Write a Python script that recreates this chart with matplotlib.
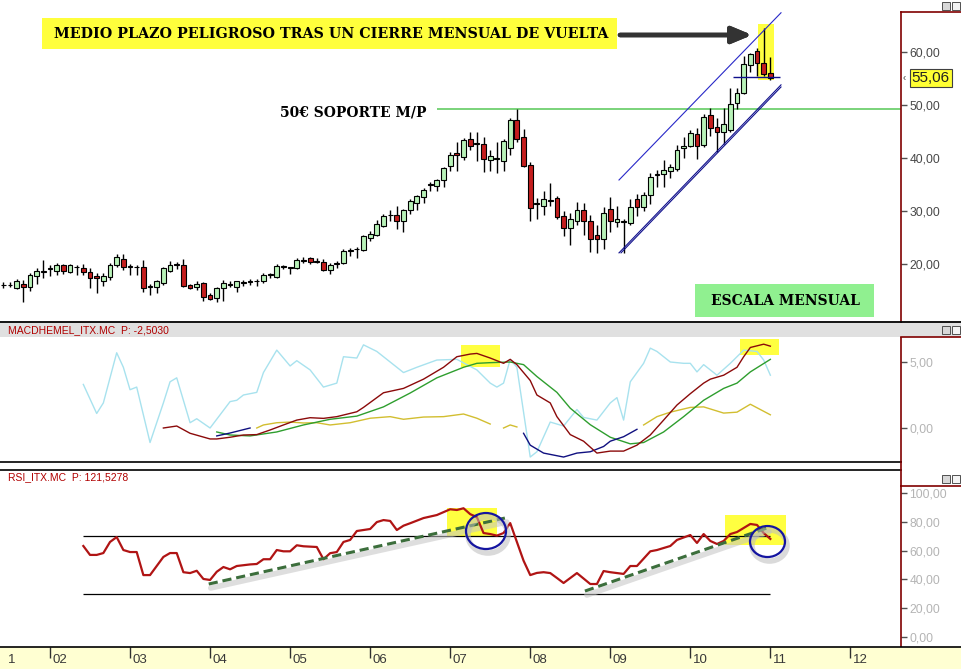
import numpy as np
import matplotlib
matplotlib.use("Agg")
import matplotlib.pyplot as plt
from matplotlib.patches import Rectangle, Ellipse
from matplotlib.lines import Line2D
from matplotlib.transforms import offset_copy, blended_transform_factory

W, H = 962, 669
X0, DX = 3.3, 6.67          # pixel of the first candle, pixels per month

# ---- ITX.MC monthly candles, index 0 = jun 2001 ----
opens = [16.0, 16.1, 15.4, 16.3, 15.6, 17.7, 18.5, 19.1, 18.7, 19.8,
         18.5, 19.5, 19.3, 18.4, 17.7, 16.7, 17.6, 19.8, 20.9, 19.5,
         19.5, 19.5, 15.7, 15.6, 16.5, 18.7, 19.8, 19.8, 16.0, 15.6,
         16.4, 14.2, 13.5, 15.4, 16.3, 15.6, 16.4, 16.6, 16.7, 16.7,
         17.9, 17.6, 19.5, 19.3, 19.2, 20.6, 21.1, 20.5, 20.4, 18.9,
         20.0, 20.1, 22.5, 22.9, 22.6, 25.0, 25.5, 27.2, 29.2, 29.2,
         28.2, 30.1, 31.6, 32.7, 34.9, 34.7, 35.8, 38.4, 40.9, 40.2,
         43.5, 42.7, 42.6, 39.6, 39.8, 39.4, 41.8, 47.2, 43.9, 38.6,
         31.3, 31.0, 31.9, 32.5, 29.1, 26.7, 28.2, 30.2, 28.1, 25.4,
         24.8, 30.4, 27.9, 27.9, 27.8, 32.3, 30.7, 33.0, 36.8, 37.0,
         37.5, 37.9, 41.8, 42.3, 44.6, 42.5, 48.1, 45.8, 45.0, 45.3,
         50.3, 52.3, 57.5, 60.1, 58.0, 56.1]
highs = [16.6, 16.6, 17.2, 16.9, 18.3, 19.3, 20.8, 19.8, 20.1, 20.0,
         20.0, 19.8, 20.0, 19.2, 18.3, 18.3, 20.1, 21.9, 21.9, 20.0,
         19.8, 20.8, 16.3, 17.0, 19.5, 20.5, 20.3, 20.9, 16.3, 16.8,
         16.6, 14.6, 15.7, 16.9, 16.7, 16.7, 16.9, 17.2, 17.2, 18.3,
         18.3, 20.0, 19.9, 19.5, 21.1, 21.3, 21.3, 21.1, 20.9, 20.1,
         20.5, 22.8, 23.0, 23.2, 25.5, 26.3, 28.3, 29.4, 30.1, 31.0,
         30.4, 32.2, 33.1, 34.3, 35.4, 36.1, 38.3, 41.1, 43.0, 43.7,
         45.0, 45.0, 44.0, 41.5, 43.1, 43.6, 47.5, 49.3, 45.5, 39.2,
         32.5, 33.8, 35.2, 32.8, 30.0, 29.6, 31.7, 31.6, 29.2, 27.4,
         30.8, 32.6, 31.0, 28.4, 32.2, 33.2, 33.5, 37.1, 37.8, 39.6,
         38.8, 42.5, 44.0, 45.3, 45.7, 48.3, 49.4, 47.6, 49.4, 53.3,
         53.3, 59.2, 59.9, 60.7, 64.5, 59.1]
lows = [15.5, 15.6, 15.2, 12.9, 15.0, 16.3, 17.4, 17.7, 17.9, 18.2,
        18.3, 17.9, 18.0, 15.4, 14.6, 15.9, 17.0, 19.4, 18.9, 17.9,
        17.9, 14.8, 14.2, 14.6, 16.0, 18.5, 19.1, 15.6, 15.3, 15.1,
        13.0, 13.2, 12.9, 13.0, 15.6, 14.8, 15.9, 16.0, 15.8, 16.5,
        17.3, 17.4, 19.0, 18.2, 19.0, 20.2, 20.0, 20.1, 18.7, 18.1,
        19.2, 20.0, 21.5, 21.2, 22.4, 24.3, 25.2, 26.9, 28.2, 26.6,
        26.1, 29.4, 30.2, 31.5, 33.8, 33.7, 34.5, 37.6, 37.5, 39.6,
        41.5, 39.4, 37.4, 37.5, 37.1, 37.5, 40.5, 43.0, 38.3, 28.1,
        28.5, 29.3, 31.0, 28.5, 25.2, 23.6, 27.3, 25.4, 22.3, 22.0,
        22.8, 26.0, 26.9, 22.1, 27.3, 29.1, 30.0, 31.3, 34.6, 34.6,
        36.3, 37.5, 40.0, 42.0, 39.8, 42.0, 44.2, 41.2, 42.6, 45.0,
        49.2, 52.0, 56.2, 55.5, 55.5, 54.7]
closes = [16.1, 16.0, 16.7, 15.7, 17.9, 18.7, 18.6, 19.2, 19.8, 18.6,
          19.8, 19.4, 18.5, 17.3, 17.4, 17.7, 19.8, 21.4, 19.5, 19.6,
          19.4, 15.4, 15.8, 16.7, 19.2, 19.8, 19.9, 15.8, 15.5, 16.3,
          13.8, 13.4, 15.4, 16.5, 16.0, 16.7, 16.5, 16.7, 16.8, 17.9,
          18.0, 19.7, 19.6, 19.4, 20.8, 20.7, 20.3, 20.4, 18.9, 19.9,
          20.1, 22.5, 22.6, 22.8, 25.2, 25.6, 27.5, 29.1, 29.3, 28.1,
          30.2, 31.8, 32.8, 34.0, 35.0, 35.8, 38.1, 40.6, 40.5, 43.4,
          42.2, 42.8, 39.8, 40.3, 39.9, 43.3, 47.2, 43.6, 38.5, 30.5,
          31.4, 32.2, 32.0, 28.8, 26.7, 28.4, 30.2, 28.1, 24.8, 24.8,
          29.6, 28.2, 28.4, 28.2, 30.7, 30.8, 33.0, 36.5, 36.9, 37.7,
          38.3, 41.5, 42.3, 44.7, 42.2, 47.8, 45.7, 45.0, 46.4, 50.2,
          52.2, 57.7, 59.6, 58.0, 55.8, 55.06]

# january of each year (candle index) and its label
year_idx = [7, 19, 31, 43, 55, 67, 79, 91, 103, 115, 127]
year_lab = ['02', '03', '04', '05', '06', '07', '08', '09', '10', '11', '12']

# ---- MACD panel (month index, value) ----
cyan_k = [12, 14, 15, 17, 18, 19, 20, 22, 24, 25, 26, 28, 29, 31, 34, 35, 36, 38,
          39, 41, 43, 44, 46, 48, 50, 51, 53, 54, 56, 60, 62, 65, 68, 71, 73, 74,
          75, 76, 77, 79, 80, 82, 84, 86, 87, 89, 91, 92, 93, 94, 96, 97, 98, 100,
          102, 103, 104, 105, 107, 109, 111, 113, 114, 115]
cyan_v = [3.3, 1.1, 1.9, 5.7, 4.6, 2.9, 3.1, -1.1, 1.9, 3.5, 3.8, 0.4, 0.7, 0.0,
          2.0, 2.1, 2.5, 2.7, 4.2, 5.9, 4.7, 5.1, 4.4, 3.1, 3.4, 5.4, 5.3, 6.3,
          5.8, 4.2, 4.6, 5.15, 5.2, 4.4, 3.4, 3.1, 3.4, 5.2, 4.6, -2.2, -1.8, 0.45,
          0.15, 1.4, 0.8, 0.6, 1.9, 2.3, 0.6, 3.5, 4.9, 6.05, 5.8, 5.0, 4.9, 4.9,
          4.25, 4.8, 4.0, 4.9, 5.9, 5.8, 5.15, 4.0]
macd_k = [24, 26, 28, 31, 32, 34, 36, 38, 40, 42, 44, 46, 48, 50, 53, 54, 57, 60,
          63, 66, 68, 70, 71, 73, 75, 76, 77, 79, 80, 82, 83, 85, 87, 89, 91, 93,
          95, 97, 99, 101, 103, 105, 106, 108, 110, 111, 112, 114, 115]
macd_v = [0.0, 0.15, -0.4, -0.83, -0.83, -0.7, -0.53, -0.5, -0.15, 0.23, 0.6,
          0.78, 0.73, 0.86, 1.23, 1.56, 2.67, 3.0, 3.7, 4.6, 5.4, 5.6, 5.65, 5.3,
          4.9, 5.2, 4.8, 3.6, 2.5, 1.9, 0.86, -0.5, -1.0, -1.9, -1.75, -1.75, -1.3,
          -0.53, 0.6, 1.74, 2.6, 3.4, 3.7, 4.0, 4.6, 5.4, 6.1, 6.35, 6.2]
sig_k = [32, 34, 37, 41, 45, 49, 53, 57, 61, 65, 69, 71, 73, 76, 78, 80, 83, 85,
         88, 91, 94, 96, 99, 102, 105, 108, 110, 112, 115]
sig_v = [-0.3, -0.53, -0.6, -0.3, 0.23, 0.66, 0.9, 1.6, 2.65, 3.8, 4.6, 4.9, 4.95,
         5.0, 4.8, 3.9, 2.7, 1.5, 0.25, -0.7, -1.2, -1.1, -0.3, 0.86, 2.1, 3.0,
         3.4, 4.25, 5.2]
yel_k = [38, 39, 41, 43, 45, 47, 49, 52, 55, 58, 60, 63, 66, 69, 71, 73, 74,
         75, 76, 77, 78, 96, 98, 100, 103, 105, 108, 110, 112, 115]
yel_v = [0.0, 0.23, 0.4, 0.45, 0.38, 0.4, 0.23, 0.4, 0.74, 0.86, 0.66, 0.83, 0.86,
         1.06, 0.74, 0.3, np.nan, 0.0, 0.23, 0.08, np.nan, 0.23, 0.86, 1.2, 1.56,
         1.6, 1.13, 1.2, 1.8, 1.0]
navy_k = [32, 34, 37, 38, 78, 79, 81, 84, 86, 88, 90, 91, 93, 95]
navy_v = [-0.6, -0.38, 0.0, np.nan, -0.4, -1.3, -1.9, -2.2, -1.9, -1.8, -1.4,
          -1.0, -0.66, -0.1]

# ---- RSI panel ----
rsi_k = [12, 13, 14, 15, 16, 17, 18, 19, 20, 21, 22, 24, 25, 26, 27, 28, 29, 30,
         31, 32, 33, 34, 35, 37, 38, 39, 40, 41, 42, 43, 44, 45, 47, 48, 49, 50,
         51, 52, 53, 55, 56, 57, 58, 59, 60, 61, 63, 65, 67, 68, 69, 70, 71, 72,
         73, 74, 75, 76, 77, 78, 79, 80, 81, 82, 83, 84, 86, 88, 89, 90, 91, 93,
         94, 95, 97, 98, 100, 101, 103, 104, 105, 106, 107, 108, 109, 110, 112,
         113, 114, 115]
rsi_v = [63.2, 57, 57, 58.3, 66, 69.4, 60.4, 59, 59, 43, 43, 55.6, 58.3, 58.3, 45,
         44.4, 46, 40.3, 39.6, 45.3, 48.6, 47, 49.3, 50.4, 50.7, 54, 54, 60.4,
         59.5, 59.5, 63.7, 63, 62.5, 54, 58.2, 59, 66, 67.4, 73.6, 75, 79.8, 81.2,
         80.6, 74.3, 77.3, 79, 82.6, 84.7, 88.7, 88.2, 89.4, 85.3, 83.3, 72.2,
         71.5, 70.4, 72.2, 79.1, 66, 53, 43, 44.5, 45, 44.4, 41, 37.5, 44.4, 36.8,
         36.8, 45.8, 45, 43.8, 49.3, 49.3, 59.5, 60.4, 63.2, 67.4, 70.8, 65.3,
         71.5, 66.7, 64.6, 66.7, 71.5, 72.9, 78.5, 77.8, 72.2, 68.1]
rsi_levels = [70, 30]
# drawn trendlines on the RSI: (start k, start v, end k, end v)
rsi_trends = [(30.8, 36.8, 75.2, 82.6), (87.2, 31.9, 114.5, 75.7)]

GREEN_BODY = '#B8F2B8'
RED_BODY = '#C41E1E'
AXRED = '#800000'
HDR = '#B00000'


def px2k(x):
    return (x - X0) / DX


def frect(x0, y0, x1, y1):
    return [x0 / W, 1 - y1 / H, (x1 - x0) / W, (y1 - y0) / H]


def fline(x0, y0, x1, y1, **kw):
    fig.add_artist(Line2D([x0 / W, x1 / W], [1 - y0 / H, 1 - y1 / H],
                          transform=fig.transFigure, **kw))


def fbox(x0, y0, x1, y1, **kw):
    fig.add_artist(Rectangle((x0 / W, 1 - y1 / H), (x1 - x0) / W, (y1 - y0) / H,
                             transform=fig.transFigure, **kw))


def ftext(x, y, s, **kw):
    fig.text(x / W, 1 - y / H, s, **kw)


def comma(v):
    return ('%.2f' % v).replace('.', ',')


fig = plt.figure(figsize=(W / 100, H / 100), dpi=100)
fig.patch.set_facecolor('white')
plt.rcParams['font.family'] = ['Liberation Sans', 'DejaVu Sans']

xl = (px2k(0), px2k(901))


def style_panel(ax, ticks, labcolor):
    for s in ['top', 'left', 'bottom']:
        ax.spines[s].set_visible(False)
    ax.spines['right'].set_color(AXRED)
    ax.spines['right'].set_linewidth(1.2)
    ax.set_xlim(*xl)
    ax.set_xticks([])
    ax.yaxis.tick_right()
    ax.set_yticks(ticks)
    ax.set_yticklabels([comma(t) for t in ticks])
    ax.tick_params(axis='y', direction='out', length=4, width=1, color='#505050',
                   labelsize=8.7, labelcolor=labcolor, pad=2)


# ================= price panel =================
axp = fig.add_axes(frect(0, 12, 901, 322))
style_panel(axp, [20, 30, 40, 50, 60], '#484848')
axp.set_ylim(50 - (322 - 105) / 5.3, 50 + (105 - 12) / 5.3)

o = np.array(opens)
hi = np.array(highs)
lo = np.array(lows)
c = np.array(closes)
k = np.arange(len(o))
up = c >= o
axp.vlines(k, lo, hi, color='black', lw=1.0, zorder=3)
axp.bar(k, np.maximum(np.abs(c - o), 0.12), bottom=np.minimum(o, c), width=0.72,
        color=np.where(up, GREEN_BODY, RED_BODY), edgecolor='black', lw=0.8, zorder=4)

# highlight on the last candles
axp.add_patch(Rectangle((px2k(758), 54.7), px2k(774) - px2k(758), 10.6,
                        color='#FFFF40', zorder=1, lw=0))
# support line
axp.hlines(49.2, px2k(437), xl[1], color='#70D070', lw=1.3, zorder=2)
# channel
axp.plot([px2k(619), px2k(781)], [35.85, 67.4], color='#2828C8', lw=0.8, zorder=5)
axp.plot([px2k(619), px2k(781)], [22.1, 53.8], color='#10108C', lw=0.8, zorder=5)
axp.plot([px2k(621), px2k(781)], [22.1, 53.4], color='#10108C', lw=0.8, zorder=5)
axp.hlines(55.2, px2k(733), px2k(780), color='#10108C', lw=1.0, zorder=5)

# last price label
tr = blended_transform_factory(axp.transAxes, axp.transData)
axp.text(1.012, closes[-1], comma(closes[-1]), transform=tr, fontsize=11,
         va='center', ha='left', color='#202020',
         bbox=dict(boxstyle='square,pad=0.12', fc='#FFFF33', ec='#404040', lw=0.8))
axp.text(1.002, closes[-1], '‹', transform=tr, fontsize=7, va='center', ha='left',
         color='#404040')

# annotations
fbox(42, 18, 617, 49, color='#FFFF3C', lw=0)
ftext(331, 34, 'MEDIO PLAZO PELIGROSO TRAS UN CIERRE MENSUAL DE VUELTA',
      family='DejaVu Serif', weight='bold', fontsize=10.3, ha='center', va='center')
fig.add_artist(plt.annotate('', xy=(752, H - 35), xytext=(620, H - 35),
                            xycoords='figure pixels', textcoords='figure pixels',
                            arrowprops=dict(arrowstyle='-|>,head_length=1.2,head_width=0.5',
                                            lw=3.3, color='#333333',
                                            shrinkA=0, shrinkB=0)))
ftext(427, 113, '50€ SOPORTE M/P', family='DejaVu Serif', weight='bold',
      fontsize=10, ha='right', va='center')
fbox(695, 284, 874, 317, color='#90F090', lw=0)
ftext(785, 301, 'ESCALA MENSUAL', family='DejaVu Serif', weight='bold',
      fontsize=10, ha='center', va='center')

# ================= MACD panel =================
fline(0, 322, 962, 322, color='black', lw=1.3)
fbox(0, 323, 962, 337, color='#E0E0E0', lw=0)
ftext(8, 330, 'MACDHEMEL_ITX.MC  P: -2,5030', fontsize=7.5, color=HDR, va='center')

axm = fig.add_axes(frect(0, 337, 901, 462))
style_panel(axm, [0, 5], '#B4B4B4')
axm.spines['bottom'].set_visible(True)
axm.spines['bottom'].set_color('black')
axm.spines['bottom'].set_linewidth(1.2)
axm.set_ylim((428 - 462) / 13.2, (428 - 337) / 13.2)
axm.patch.set_alpha(0)

axm.add_patch(Rectangle((px2k(461), 4.62), px2k(500) - px2k(461), 1.67,
                        color='#FFFF40', lw=0, zorder=1))
axm.add_patch(Rectangle((px2k(740), 5.53), px2k(779) - px2k(740), 1.21,
                        color='#FFFF40', lw=0, zorder=1))
axm.plot(cyan_k, cyan_v, color='#A8E2EE', lw=1.0, zorder=2)
axm.plot(yel_k, yel_v, color='#D2BE30', lw=1.0, zorder=3)
axm.plot(sig_k, sig_v, color='#2E9E2E', lw=1.0, zorder=4)
axm.plot(navy_k, navy_v, color='#101080', lw=1.0, zorder=4)
axm.plot(macd_k, macd_v, color='#8B0A0A', lw=1.0, zorder=5)

# ================= RSI panel =================
fline(0, 470, 901, 470, color='black', lw=1.2)
fline(901, 462, 901, 486, color=AXRED, lw=1.2)
ftext(8, 477, 'RSI_ITX.MC  P: 121,5278', fontsize=7.5, color=HDR, va='center')

axr = fig.add_axes(frect(0, 486, 901, 647))
style_panel(axr, [0, 20, 40, 60, 80, 100], '#B4B4B4')
axr.set_ylim((637 - 647) / 1.44, (637 - 486) / 1.44)
axr.patch.set_alpha(0)

axr.add_patch(Rectangle((px2k(447), 70.1), px2k(497) - px2k(447), 19.5,
                        color='#FFFF40', lw=0, zorder=1))
axr.add_patch(Rectangle((px2k(725), 63.9), px2k(786) - px2k(725), 20.8,
                        color='#FFFF40', lw=0, zorder=1))
axr.hlines(rsi_levels, rsi_k[0], rsi_k[-1], color='black', lw=0.9, zorder=2)
shadow = offset_copy(axr.transData, fig=fig, x=2, y=-4, units='dots')
for k0, v0, k1, v1 in rsi_trends:
    axr.plot([k0, k1], [v0, v1], color='#C4C4C4', lw=4, alpha=0.55,
             transform=shadow, zorder=2, solid_capstyle='round')
    axr.plot([k0, k1], [v0, v1], color='#3C6E3C', lw=2.2, ls=(0, (3, 1.6)), zorder=4)
axr.plot(rsi_k, rsi_v, color='#B01414', lw=1.6, zorder=3)
for ck, cv, w, h in [(px2k(486), 73.6, 40 / DX, 36 / 1.44),
                     (px2k(767.5), 66.3, 35 / DX, 31 / 1.44)]:
    axr.add_patch(Ellipse((ck, cv), w, h, fill=False, ec='#BDBDBD', lw=4,
                          alpha=0.55, transform=shadow, zorder=5))
    axr.add_patch(Ellipse((ck, cv), w, h, fill=False, ec='#1414A0', lw=1.6, zorder=6))

# right axis box tops and window buttons
for y in (12, 337, 486):
    fline(901, y, 962, y, color=AXRED, lw=1.2)
for y in (2, 326, 475):
    fbox(942, y, 950, y + 8, fc='#D8D8D8', ec='#505050', lw=0.7)
    fbox(952, y, 960, y + 8, fc='#F4F4F4', ec='#505050', lw=0.7)

# ================= time strip =================
axx = fig.add_axes(frect(0, 647, 962, 669))
axx.set_facecolor('#FFFFD2')
axx.set_xlim(px2k(0), px2k(962))
axx.set_ylim(0, 1)
for s in ['left', 'right', 'bottom']:
    axx.spines[s].set_visible(False)
axx.spines['top'].set_linewidth(1.2)
axx.set_yticks([])
axx.set_xticks(year_idx)
axx.tick_params(axis='x', top=True, bottom=False, direction='in', length=8,
                width=1, color='#303030', labelbottom=False)
for yk, lab in zip(year_idx, year_lab):
    axx.text(yk + 0.4, 0.4, lab, fontsize=9.5, color='#383838', ha='left', va='center')
axx.text(px2k(8), 0.4, '1', fontsize=9.5, color='#383838', ha='left', va='center')

fig.savefig('out.png', dpi=100)
